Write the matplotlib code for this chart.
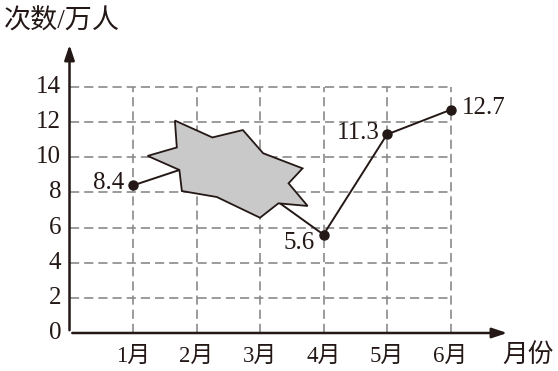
import matplotlib
matplotlib.use("Agg")
import matplotlib.pyplot as plt
from matplotlib.patches import Polygon

# ---- data ----
months = [1, 2, 3, 4, 5, 6]
month_labels = ["1月", "2月", "3月", "4月", "5月", "6月"]
values = [8.4, 9.6, 8.2, 5.6, 11.3, 12.7]          # 2月/3月 hidden under the ink blot (estimated)
shown_labels = {0: "8.4", 3: "5.6", 4: "11.3", 5: "12.7"}
y_ticks = [0, 2, 4, 6, 8, 10, 12, 14]
y_title = "次数/万人"
x_title = "月份"

# ink blot outline (data units: month, count)
blot_x = [1.23, 1.73, 1.77, 2.32, 3.00, 3.29, 3.75, 3.45, 3.67, 3.05, 2.73, 2.25, 1.66, 1.69]
blot_y = [10.08, 9.28, 8.08, 7.74, 6.56, 7.38, 7.23, 8.52, 9.37, 10.23, 11.55, 11.13, 12.09, 10.56]

ink = "#231815"
serif = ["Liberation Serif", "Noto Sans CJK SC"]

fig = plt.figure(figsize=(5.58, 3.71), dpi=100)
W, H = 558, 371
x0, x1 = 69.5, 510
y0, y1 = 333, 42
ax = fig.add_axes([x0 / W, (H - y0) / H, (x1 - x0) / W, (y0 - y1) / H])
ax.set_xlim(0, (x1 - x0) / 63.5)
ax.set_ylim(0, (y0 - y1) / 17.57)
ax.axis("off")

grid_kw = dict(color="#8a8a8a", lw=1.2, ls=(0, (5.5, 3)), zorder=1)
for yv in y_ticks[1:]:
    ax.plot([0, months[-1]], [yv, yv], **grid_kw)
for xv in months:
    ax.plot([xv, xv], [0, y_ticks[-1]], **grid_kw)

# axes with arrows
xmax = ax.get_xlim()[1]
ymax = ax.get_ylim()[1]
ax.annotate("", xy=(xmax, 0), xytext=(0, 0),
            arrowprops=dict(arrowstyle="-|>,head_length=0.9,head_width=0.3", color=ink, lw=1.8),
            annotation_clip=False, zorder=5)
ax.annotate("", xy=(0, ymax), xytext=(0, 0),
            arrowprops=dict(arrowstyle="-|>,head_length=0.9,head_width=0.3", color=ink, lw=1.8),
            annotation_clip=False, zorder=5)

# line + points
ax.plot(months, values, color=ink, lw=1.4, zorder=3)
for i, lab in shown_labels.items():
    ax.plot(months[i], values[i], "o", color=ink, ms=6.5, zorder=6)

# ink blot
ax.add_patch(Polygon(list(zip(blot_x, blot_y)), closed=True, facecolor="#c9c9c9",
                     edgecolor=ink, lw=1.3, zorder=4))

# value labels
fs = 18
ax.annotate(shown_labels[0], (months[0], values[0]), xytext=(-6, 2), textcoords="offset points",
            ha="right", va="center", fontsize=fs, family=serif, color=ink)
ax.annotate(shown_labels[3], (months[3], values[3]), xytext=(-6, -6), textcoords="offset points",
            ha="right", va="center", fontsize=fs, family=serif, color=ink)
ax.annotate(shown_labels[4], (months[4], values[4]), xytext=(-5, 1), textcoords="offset points",
            ha="right", va="center", fontsize=fs, family=serif, color=ink)
ax.annotate(shown_labels[5], (months[5], values[5]), xytext=(8, 1), textcoords="offset points",
            ha="left", va="center", fontsize=fs, family=serif, color=ink)

# tick labels
for yv in y_ticks:
    ax.annotate(str(yv), (0, yv), xytext=(-6, 0), textcoords="offset points",
                ha="right", va="center", fontsize=fs, family=serif, color=ink, annotation_clip=False)
for xv, lab in zip(months, month_labels):
    ax.annotate(lab, (xv, 0), xytext=(0, -17), textcoords="offset points",
                ha="center", va="center", fontsize=fs - 1.5, family=serif, color=ink, annotation_clip=False)

fig.text(528 / W, 1 - 355 / H, x_title, ha="center", va="center", fontsize=18.5,
         family=serif, color=ink)
fig.text(4 / W, 1 - 22 / H, y_title, ha="left", va="center", fontsize=19.5,
         family=serif, color=ink)

fig.savefig("out.png", dpi=100)
